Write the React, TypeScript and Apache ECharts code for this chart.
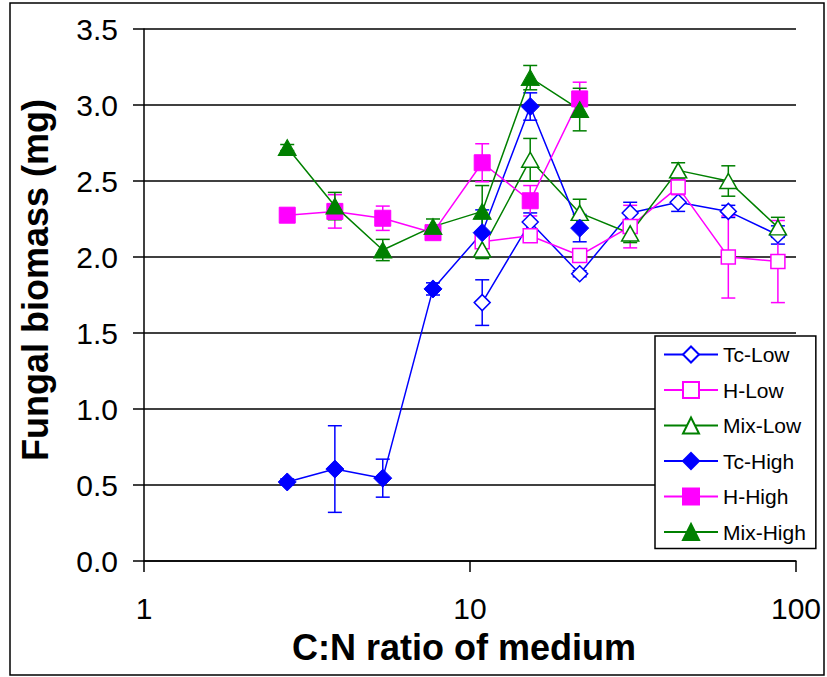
import React, { useEffect, useRef } from "react";
import * as echarts from "echarts";

const highRatio = [2.75, 3.85, 5.4, 7.7, 10.9, 15.3, 21.7];
const lowRatio = [10.9, 15.3, 21.7, 31, 43.5, 62, 88];

const tcLow = [1.70, 2.23, 1.89, 2.29, 2.36, 2.30, 2.145];
const tcLowErr = [0.15, 0.06, 0.02, 0.07, 0.06, 0.04, 0.06];
const hLow = [2.10, 2.14, 2.01, 2.20, 2.46, 2.00, 1.97];
const hLowErr = [0.03, 0.03, 0.03, 0.14, 0.05, 0.27, 0.27];
const mixLow = [2.05, 2.64, 2.29, 2.155, 2.57, 2.50, 2.195];
const mixLowErr = [0.06, 0.14, 0.09, 0.06, 0.05, 0.10, 0.066];

const tcHigh = [0.52, 0.605, 0.545, 1.79, 2.16, 2.99, 2.19];
const tcHighErr = [0.02, 0.285, 0.125, 0.04, 0.15, 0.09, 0.09];
const hHigh = [2.275, 2.30, 2.255, 2.16, 2.62, 2.37, 3.04];
const hHighErr = [0.02, 0.11, 0.08, 0.03, 0.125, 0.10, 0.11];
const mixHigh = [2.72, 2.335, 2.046, 2.20, 2.30, 3.18, 2.97];
const mixHighErr = [0.02, 0.09, 0.07, 0.05, 0.17, 0.08, 0.14];

const seriesNames = ["Tc-Low", "H-Low", "Mix-Low", "Tc-High", "H-High", "Mix-High"];
const xTitle = "C:N ratio of medium";
const yTitle = "Fungal biomass (mg)";

const BLUE = "#0000FF";
const MAGENTA = "#FF00FF";
const GREEN = "#008000";
const FONT = "'Liberation Sans', Arial, sans-serif";

type Spec = {
  name: string;
  xs: number[];
  ys: number[];
  errs: number[];
  color: string;
  symbol: string;
  size: number | number[];
  filled: boolean;
};

const specs: Spec[] = [
  { name: seriesNames[0], xs: lowRatio, ys: tcLow, errs: tcLowErr, color: BLUE, symbol: "diamond", size: 16, filled: false },
  { name: seriesNames[1], xs: lowRatio, ys: hLow, errs: hLowErr, color: MAGENTA, symbol: "rect", size: 14, filled: false },
  { name: seriesNames[2], xs: lowRatio, ys: mixLow, errs: mixLowErr, color: GREEN, symbol: "triangle", size: [17, 15], filled: false },
  { name: seriesNames[3], xs: highRatio, ys: tcHigh, errs: tcHighErr, color: BLUE, symbol: "diamond", size: 18, filled: true },
  { name: seriesNames[4], xs: highRatio, ys: hHigh, errs: hHighErr, color: MAGENTA, symbol: "rect", size: 16, filled: true },
  { name: seriesNames[5], xs: highRatio, ys: mixHigh, errs: mixHighErr, color: GREEN, symbol: "triangle", size: [18, 16], filled: true },
];

export default function App() {
  const ref = useRef<HTMLDivElement>(null);

  useEffect(() => {
    if (!ref.current) return;
    const chart = echarts.init(ref.current, undefined, { renderer: "svg" });

    const series: any[] = [];
    specs.forEach((s) => {
      series.push({
        type: "custom",
        name: s.name + " error",
        data: s.xs.map((x, i) => [x, s.ys[i], s.errs[i]]),
        encode: { x: 0, y: 1 },
        silent: true,
        renderItem: (params: any, api: any) => {
          const x = api.value(0);
          const y = api.value(1);
          const e = api.value(2);
          const top = api.coord([x, y + e]);
          const bot = api.coord([x, y - e]);
          const half = 7;
          const style = { stroke: s.color, lineWidth: 1.5 };
          return {
            type: "group",
            children: [
              { type: "line", shape: { x1: top[0], y1: top[1], x2: bot[0], y2: bot[1] }, style },
              { type: "line", shape: { x1: top[0] - half, y1: top[1], x2: top[0] + half, y2: top[1] }, style },
              { type: "line", shape: { x1: bot[0] - half, y1: bot[1], x2: bot[0] + half, y2: bot[1] }, style },
            ],
          };
        },
      });
      series.push({
        type: "line",
        name: s.name,
        data: s.xs.map((x, i) => [x, s.ys[i]]),
        symbol: s.symbol,
        symbolSize: s.size,
        showSymbol: true,
        lineStyle: { color: s.color, width: 1.5 },
        itemStyle: s.filled
          ? { color: s.color, borderColor: s.color, borderWidth: 1 }
          : { color: "#FFFFFF", borderColor: s.color, borderWidth: 1.5 },
        emphasis: { disabled: true },
      });
    });

    chart.setOption({
      animation: false,
      backgroundColor: "#FFFFFF",
      grid: { left: 144, right: 31, top: 29, bottom: 116, containLabel: false },
      xAxis: {
        type: "log",
        logBase: 10,
        min: 1,
        max: 100,
        axisLine: { show: true, lineStyle: { color: "#000", width: 1.5 } },
        axisTick: { show: true, length: 11, inside: false, lineStyle: { color: "#000", width: 1.5 } },
        axisLabel: { fontSize: 30, color: "#000", fontFamily: FONT, margin: 32 },
        splitLine: { show: false },
        minorTick: { show: false },
      },
      yAxis: {
        type: "value",
        min: 0,
        max: 3.5,
        interval: 0.5,
        axisLine: { show: true, lineStyle: { color: "#000", width: 1.5 } },
        axisTick: { show: true, length: 11, inside: false, lineStyle: { color: "#000", width: 1.5 } },
        axisLabel: {
          fontSize: 30,
          color: "#000",
          fontFamily: FONT,
          margin: 26,
          formatter: (v: number) => v.toFixed(1),
        },
        splitLine: { show: true, lineStyle: { color: "#000", width: 1.5 } },
      },
      legend: {
        data: seriesNames,
        orient: "vertical",
        left: 655,
        top: 336,
        backgroundColor: "#FFFFFF",
        borderColor: "#000",
        borderWidth: 1.5,
        padding: [8, 10, 6, 8],
        itemWidth: 54,
        itemHeight: 20,
        itemGap: 14.5,
        textStyle: { fontSize: 21, color: "#000", fontFamily: FONT },
        selectedMode: false,
      },
      graphic: [
        {
          type: "rect",
          shape: { x: 10, y: 3, width: 814, height: 672 },
          style: { fill: "none", stroke: "#000", lineWidth: 1.5 },
          silent: true,
          z: 100,
        },
        {
          type: "text",
          x: 464,
          y: 647,
          style: {
            text: xTitle,
            font: `bold 36px ${FONT}`,
            fill: "#000",
            textAlign: "center",
            textVerticalAlign: "middle",
          },
        },
        {
          type: "text",
          x: 35,
          y: 280,
          rotation: Math.PI / 2,
          style: {
            text: yTitle,
            font: `bold 36px ${FONT}`,
            fill: "#000",
            textAlign: "center",
            textVerticalAlign: "middle",
          },
        },
      ],
      series,
    });

    return () => chart.dispose();
  }, []);

  return (
    <div
      ref={ref}
      style={{ position: "fixed", left: 0, top: 0, width: 827, height: 677 }}
    />
  );
}
